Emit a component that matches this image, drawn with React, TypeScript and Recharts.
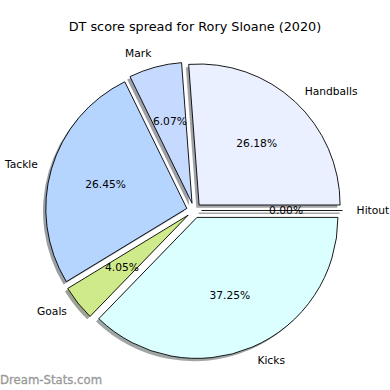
import React from 'react';
import { PieChart, Pie, Cell } from 'recharts';

const categories = ['Handballs', 'Mark', 'Tackle', 'Goals', 'Kicks', 'Hitout'];
const shares = [26.18, 6.07, 26.45, 4.05, 37.25, 0.0];
const colors = ['#EAF0FF', '#C6D9FF', '#B5D5FF', '#CFEA8B', '#DBFEFF', '#FFFFFF'];

const data = categories.map((name, i) => ({ name, value: shares[i] }));

const CX = 194;
const CY = 210.5;
const R = 141;
const EXPLODE = 7.5;
const SH = 2.8;
const FONT = 'DejaVu Sans';

const RAD = Math.PI / 180;

function wedgePath(cx: number, cy: number, r: number, a0: number, a1: number) {
  const x0 = cx + r * Math.cos(a0 * RAD);
  const y0 = cy - r * Math.sin(a0 * RAD);
  const x1 = cx + r * Math.cos(a1 * RAD);
  const y1 = cy - r * Math.sin(a1 * RAD);
  if (Math.abs(a1 - a0) < 1e-6) {
    return `M${cx},${cy} L${x0},${y0}`;
  }
  const large = Math.abs(a1 - a0) > 180 ? 1 : 0;
  return `M${cx},${cy} L${x0},${y0} A${r},${r} 0 ${large} 0 ${x1},${y1} Z`;
}

function shadowColor(hex: string) {
  const n = parseInt(hex.slice(1), 16);
  const r = Math.round(((n >> 16) & 255) * 0.3);
  const g = Math.round(((n >> 8) & 255) * 0.3);
  const b = Math.round((n & 255) * 0.3);
  return `rgb(${r},${g},${b})`;
}

const WedgeShape = (props: any) => {
  const { cx, cy, outerRadius, startAngle, endAngle, midAngle, fill } = props;
  const ox = cx + EXPLODE * Math.cos(midAngle * RAD);
  const oy = cy - EXPLODE * Math.sin(midAngle * RAD);
  const d = wedgePath(ox, oy, outerRadius, startAngle, endAngle);
  return <path d={d} fill={fill} stroke="#000" strokeWidth={0.9} strokeLinejoin="miter" />;
};

const ShadowShape = (props: any) => {
  const { cx, cy, outerRadius, startAngle, endAngle, midAngle, fill } = props;
  const ox = cx + EXPLODE * Math.cos(midAngle * RAD) - SH;
  const oy = cy - EXPLODE * Math.sin(midAngle * RAD) + SH;
  const d = wedgePath(ox, oy, outerRadius, startAngle, endAngle);
  const c = shadowColor(fill);
  const zero = Math.abs(endAngle - startAngle) < 1e-6;
  return zero ? (
    <path d={d} fill="none" stroke={c} strokeOpacity={0.5} strokeWidth={1.5} />
  ) : (
    <path d={d} fill={c} fillOpacity={0.5} stroke="none" />
  );
};

const renderLabel = (props: any) => {
  const { cx, cy, outerRadius, midAngle, name, percent } = props;
  const ox = cx + EXPLODE * Math.cos(midAngle * RAD);
  const oy = cy - EXPLODE * Math.sin(midAngle * RAD);
  const lx = ox + 1.1 * outerRadius * Math.cos(midAngle * RAD);
  const ly = oy - 1.1 * outerRadius * Math.sin(midAngle * RAD);
  const px = ox + 0.6 * outerRadius * Math.cos(midAngle * RAD);
  const py = oy - 0.6 * outerRadius * Math.sin(midAngle * RAD);
  return (
    <g>
      <text
        x={lx}
        y={ly}
        textAnchor={lx > cx ? 'start' : 'end'}
        dominantBaseline="central"
        fontFamily={FONT}
        fontSize={10.7}
        fill="#000"
      >
        {name}
      </text>
      <text
        x={px}
        y={py}
        textAnchor="middle"
        dominantBaseline="central"
        fontFamily={FONT}
        fontSize={10.7}
        fill="#000"
      >
        {`${(percent * 100).toFixed(2)}%`}
      </text>
    </g>
  );
};

export default function App() {
  return (
    <div style={{ position: 'absolute', left: 0, top: 0, width: 390, height: 390, background: '#fff' }}>
      <PieChart width={390} height={390} margin={{ top: 0, right: 0, bottom: 0, left: 0 }}>
        <Pie
          data={data}
          dataKey="value"
          nameKey="name"
          cx={CX}
          cy={CY}
          innerRadius={0}
          outerRadius={R}
          startAngle={0}
          endAngle={360}
          isAnimationActive={false}
          shape={ShadowShape}
          inactiveShape={ShadowShape}
          activeShape={ShadowShape}
          label={false}
          labelLine={false}
        >
          {data.map((d, i) => (
            <Cell key={`s-${d.name}`} fill={colors[i]} />
          ))}
        </Pie>
        <Pie
          data={data}
          dataKey="value"
          nameKey="name"
          cx={CX}
          cy={CY}
          innerRadius={0}
          outerRadius={R}
          startAngle={0}
          endAngle={360}
          isAnimationActive={false}
          shape={WedgeShape}
          inactiveShape={WedgeShape}
          activeShape={WedgeShape}
          label={renderLabel}
          labelLine={false}
        >
          {data.map((d, i) => (
            <Cell key={`w-${d.name}`} fill={colors[i]} />
          ))}
        </Pie>
      </PieChart>
      <svg width={390} height={390} style={{ position: 'absolute', left: 0, top: 0, pointerEvents: 'none' }}>
        <text x={195} y={26} textAnchor="middle" dominantBaseline="central" fontFamily={FONT} fontSize={12.8} fill="#000">
          DT score spread for Rory Sloane (2020)
        </text>
        <text x={0} y={380} dominantBaseline="central" fontFamily={FONT} fontSize={11.7} fill="#999" stroke="#999" strokeWidth={0.3}>
          Dream-Stats.com
        </text>
      </svg>
    </div>
  );
}
